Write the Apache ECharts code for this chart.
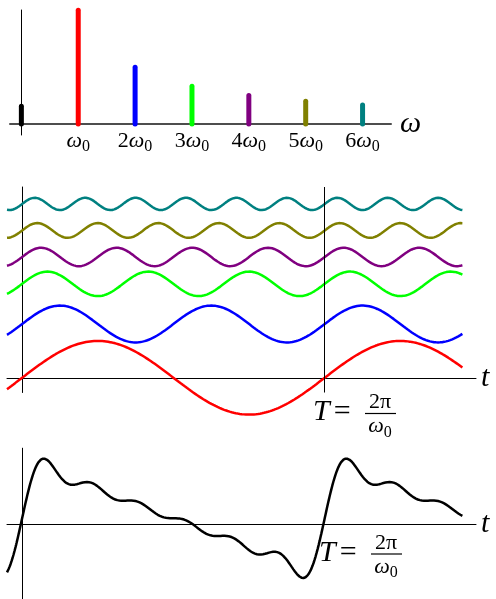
<!DOCTYPE html>
<html>
<head>
<meta charset="utf-8">
<script src="https://cdn.jsdelivr.net/npm/echarts@6/dist/echarts.min.js"></script>
<style>
html,body{margin:0;padding:0;background:#fff;}
#c{width:496px;height:599px;}
</style>
</head>
<body>
<div id="c"></div>
<script>
// ---------------- data ----------------
const harmonicOrders = [1, 2, 3, 4, 5, 6];                 // n in n*ω0
const harmonicAmplitudes = [1, 0.5, 0.333, 0.25, 0.2, 0.167]; // spectrum bar heights
const dcAmplitude = 0.155;                                 // black bar at ω = 0
const waveOffsets = [0, 1.46, 2.55, 3.28, 4.0, 4.72];      // vertical shift of each stacked wave
const spectrumTickValues = [1, 2, 3, 4, 5, 6];
const periodMark = 1;                                      // t = T
const tStart = -0.05, tEnd = 1.455;                        // drawn time span, in periods

// ---------------- styles ----------------
const harmonicColors = ['#ff0000', '#0000ff', '#00ff00', '#800080', '#808000', '#008080'];
const FONT = "'Liberation Serif', 'DejaVu Serif', serif";

// sample each harmonic n: A_n * sin(n * ω0 * t)
const SAMPLES = 900;
const tValues = [];
for (let i = 0; i <= SAMPLES; i++) tValues.push(tStart + (tEnd - tStart) * i / SAMPLES);
const harmonicValue = (k, t) => harmonicAmplitudes[k] * Math.sin(2 * Math.PI * harmonicOrders[k] * t);

const chart = echarts.init(document.getElementById('c'));

const hiddenAxisBits = { axisTick: { show: false }, axisLabel: { show: false }, splitLine: { show: false } };

const series = [];
// spectrum: DC bar
series.push({
  type: 'line', xAxisIndex: 0, yAxisIndex: 0, symbol: 'none', clip: false, silent: true,
  data: [[0, 0], [0, dcAmplitude]],
  lineStyle: { color: '#000', width: 5, cap: 'round' }
});
// spectrum: harmonic bars
harmonicOrders.forEach((n, k) => {
  series.push({
    type: 'line', xAxisIndex: 0, yAxisIndex: 0, symbol: 'none', clip: false, silent: true,
    data: [[n, 0], [n, harmonicAmplitudes[k]]],
    lineStyle: { color: harmonicColors[k], width: 5, cap: 'round' }
  });
});
// stacked waves
harmonicOrders.forEach((n, k) => {
  const s = {
    type: 'line', xAxisIndex: 1, yAxisIndex: 1, symbol: 'none', clip: false, silent: true,
    data: tValues.map(t => [t, waveOffsets[k] + harmonicValue(k, t)]),
    lineStyle: { color: harmonicColors[k], width: 2.5 }
  };
  if (k === 0) {
    s.markLine = {
      silent: true, symbol: 'none', label: { show: false },
      lineStyle: { color: '#000', width: 1, type: 'solid' },
      data: [{ xAxis: periodMark }]
    };
  }
  series.push(s);
});
// sum (DC + harmonics)
series.push({
  type: 'line', xAxisIndex: 2, yAxisIndex: 2, symbol: 'none', clip: false, silent: true,
  data: tValues.map(t => {
    let v = dcAmplitude;
    for (let k = 0; k < harmonicOrders.length; k++) v += harmonicValue(k, t);
    return [t, v];
  }),
  lineStyle: { color: '#000', width: 2.5 }
});

const mainTxt = { fontFamily: FONT, fontSize: 22, lineHeight: 22, color: '#000', verticalAlign: 'top' };
const tickRich = {
  n: Object.assign({}, mainTxt),
  w: Object.assign({}, mainTxt, { fontStyle: 'italic' }),
  s: { fontFamily: FONT, fontSize: 16, lineHeight: 16, color: '#000', verticalAlign: 'top', padding: [9, 0, 0, 0] }
};

const nameStyleT = { fontFamily: FONT, fontSize: 30, fontStyle: 'italic', color: '#000', padding: [0, 0, 22, 0] };

function periodLabel(x, y0) {
  return {
    type: 'group', silent: true, z: 100,
    children: [
      { type: 'text', x: x, y: y0, style: {
          text: '{i|T}{r|=}', verticalAlign: 'middle',
          rich: { i: { fontFamily: FONT, fontSize: 30, fontStyle: 'italic', fill: '#000' },
                  r: { fontFamily: FONT, fontSize: 30, fill: '#000', padding: [0, 0, 0, 4] } } } },
      { type: 'text', x: x + 67, y: y0 - 10, style: {
          text: '2π', align: 'center', verticalAlign: 'middle',
          fontFamily: FONT, fontSize: 22, fill: '#000' } },
      { type: 'line', shape: { x1: x + 52, y1: y0 + 1, x2: x + 83, y2: y0 + 1 },
        style: { stroke: '#000', lineWidth: 1.2 } },
      { type: 'text', x: x + 67, y: y0 + 14, style: {
          text: '{w|ω}{s|0}', align: 'center', verticalAlign: 'middle',
          rich: { w: { fontFamily: FONT, fontSize: 22, lineHeight: 22, fontStyle: 'italic', fill: '#000', verticalAlign: 'top' },
                  s: { fontFamily: FONT, fontSize: 16, lineHeight: 16, fill: '#000', verticalAlign: 'top', padding: [9, 0, 0, 0] } } } }
    ]
  };
}

chart.setOption({
  animation: false,
  backgroundColor: '#fff',
  grid: [
    { left: 10, top: 10, width: 381, height: 125 },
    { left: 7, top: 187, width: 469, height: 205.5 },
    { left: 7, top: 448.2, width: 469, height: 150.5 }
  ],
  xAxis: [
    { type: 'value', gridIndex: 0, min: -0.2, max: 6.5,
      axisLine: { lineStyle: { color: '#4d4d4d', width: 2 } },
      axisTick: { show: false }, splitLine: { show: false },
      axisLabel: { show: true, customValues: spectrumTickValues, margin: -5,
        formatter: v => (v === 1 ? '' : '{n|' + v + '}') + '{w|ω}{s|0}', rich: tickRich },
      name: 'ω', nameLocation: 'end', nameGap: 9,
      nameTextStyle: { fontFamily: FONT, fontSize: 30, fontStyle: 'italic', color: '#000', padding: [4, 0, 0, 0] } },
    Object.assign({ type: 'value', gridIndex: 1, min: -0.05, max: 1.5,
      axisLine: { lineStyle: { color: '#000', width: 1 } },
      name: 't', nameLocation: 'end', nameGap: 5, nameTextStyle: nameStyleT }, hiddenAxisBits),
    Object.assign({ type: 'value', gridIndex: 2, min: -0.05, max: 1.5,
      axisLine: { lineStyle: { color: '#000', width: 1 } },
      name: 't', nameLocation: 'end', nameGap: 5, nameTextStyle: nameStyleT }, hiddenAxisBits)
  ],
  yAxis: [
    Object.assign({ type: 'value', gridIndex: 0, min: -0.097, max: 1.003,
      axisLine: { show: true, onZero: true, lineStyle: { color: '#000', width: 1 } } }, hiddenAxisBits),
    Object.assign({ type: 'value', gridIndex: 1, min: -0.4, max: 5.18,
      axisLine: { show: true, onZero: true, lineStyle: { color: '#000', width: 1 } } }, hiddenAxisBits),
    Object.assign({ type: 'value', gridIndex: 2, min: -2.03, max: 2.06,
      axisLine: { show: true, onZero: true, lineStyle: { color: '#000', width: 1 } } }, hiddenAxisBits)
  ],
  series: series,
  graphic: [ periodLabel(313, 412.5), periodLabel(319, 553) ]
});
</script>
</body>
</html>
